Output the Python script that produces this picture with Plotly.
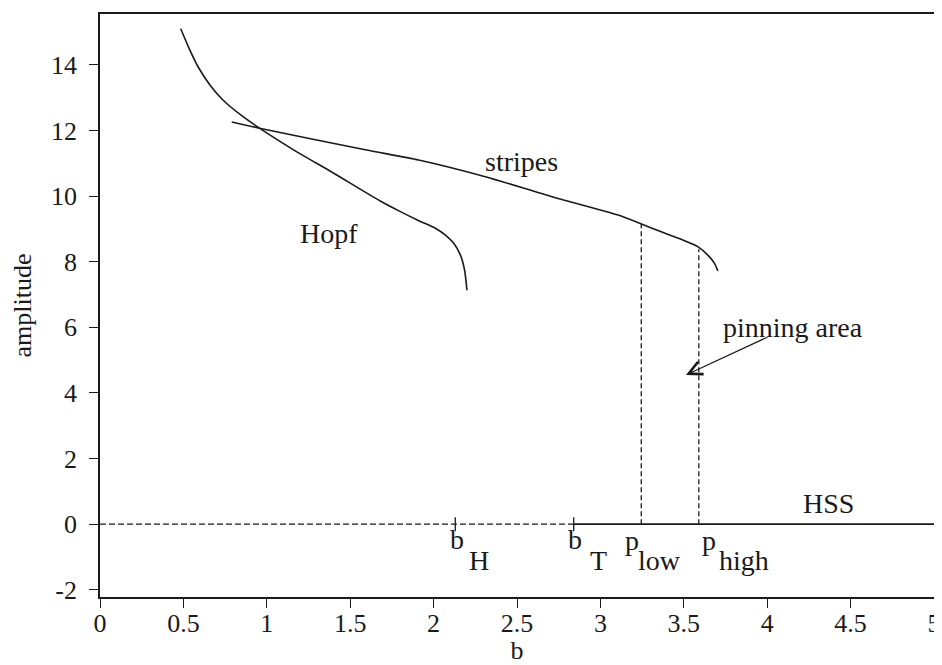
import plotly.graph_objects as go

# ---- data ----
hopf_b = [0.484, 0.53, 0.587, 0.66, 0.737, 0.85, 0.956, 1.17, 1.394, 1.68, 1.792, 1.912,
          2.011, 2.071, 2.121, 2.161, 2.186, 2.20]
hopf_amp = [15.10, 14.55, 13.95, 13.38, 12.93, 12.45, 12.07, 11.38, 10.72, 9.85, 9.55, 9.25,
            9.02, 8.81, 8.56, 8.20, 7.74, 7.13]

stripes_b = [0.79, 0.956, 1.59, 1.91, 2.31, 2.71, 3.106, 3.246, 3.365, 3.505, 3.584, 3.644, 3.684, 3.704]
stripes_amp = [12.26, 12.07, 11.41, 11.10, 10.59, 9.98, 9.42, 9.15, 8.91, 8.64, 8.46, 8.20, 7.95, 7.72]

hss_unstable_b = [0.0, 2.84]
hss_stable_b = [2.84, 5.0]
hss_amp = [0.0, 0.0]

mark_b = [2.13, 2.84]          # b_H, b_T
mark_amp = [0.0, 0.0]

p_low = 3.245
p_high = 3.59
p_low_amp = [0.0, 9.15]
p_high_amp = [0.0, 8.38]

x_ticks = [0, 0.5, 1, 1.5, 2, 2.5, 3, 3.5, 4, 4.5, 5]
x_tick_text = ["0", "0.5", "1", "1.5", "2", "2.5", "3", "3.5", "4", "4.5", "5"]
y_ticks = [-2, 0, 2, 4, 6, 8, 10, 12, 14]
y_tick_text = ["-2", "0", "2", "4", "6", "8", "10", "12", "14"]

FONT = "Liberation Serif"
INK = "#1a1a1a"

fig = go.Figure()

fig.add_trace(go.Scatter(x=hopf_b, y=hopf_amp, mode="lines",
                         line=dict(color=INK, width=1.6, shape="spline", smoothing=0.6),
                         hoverinfo="skip"))
fig.add_trace(go.Scatter(x=stripes_b, y=stripes_amp, mode="lines",
                         line=dict(color=INK, width=1.6, shape="spline", smoothing=0.6),
                         hoverinfo="skip"))
fig.add_trace(go.Scatter(x=hss_unstable_b, y=hss_amp, mode="lines",
                         line=dict(color=INK, width=1.3, dash="6px,3px"), hoverinfo="skip"))
fig.add_trace(go.Scatter(x=hss_stable_b, y=hss_amp, mode="lines",
                         line=dict(color=INK, width=1.6), hoverinfo="skip"))
fig.add_trace(go.Scatter(x=mark_b, y=mark_amp, mode="markers",
                         marker=dict(symbol="line-ns", size=10,
                                     line=dict(color=INK, width=1.3)),
                         hoverinfo="skip"))
fig.add_trace(go.Scatter(x=[p_low, p_low], y=p_low_amp, mode="lines",
                         line=dict(color=INK, width=1.3, dash="5px,3px"), hoverinfo="skip"))
fig.add_trace(go.Scatter(x=[p_high, p_high], y=p_high_amp, mode="lines",
                         line=dict(color=INK, width=1.3, dash="5px,3px"), hoverinfo="skip"))

def label(x, y, text, size=28):
    fig.add_annotation(x=x, y=y, xref="x", yref="y", text=text, showarrow=False,
                       xanchor="center", yanchor="middle",
                       font=dict(family=FONT, size=size, color=INK))

label(1.374, 8.87, "Hopf")
label(2.527, 11.04, "stripes")
label(4.367, 0.62, "HSS")
label(4.152, 6.0, "pinning area")

# bifurcation point labels (main letter raised, subscript at full size)
label(2.139, -0.46, "b")
label(2.27, -1.11, "H")
label(2.85, -0.46, "b")
label(2.987, -1.11, "T")
label(3.19, -0.50, "p")
label(3.357, -1.11, "low")
label(3.65, -0.50, "p")
label(3.86, -1.11, "high")

# arrow pointing into the pinning area
fig.add_annotation(x=3.513, y=4.55, ax=4.01, ay=5.72, xref="x", yref="y",
                   axref="x", ayref="y", text="", showarrow=True,
                   arrowhead=5, arrowsize=2.2, arrowwidth=1.2, arrowcolor=INK)

axis_common = dict(showgrid=False, zeroline=False, showline=True, linecolor=INK,
                   linewidth=1.6, mirror=True, ticks="outside", ticklen=9,
                   tickwidth=1.3, tickcolor=INK, ticklabeloverflow="allow",
                   tickfont=dict(family=FONT, size=26, color=INK), automargin=False)

fig.update_xaxes(range=[0, 5], tickvals=x_ticks, ticktext=x_tick_text,
                 title=dict(text="b", font=dict(family=FONT, size=26, color=INK), standoff=24),
                 ticklabelstandoff=-7, **axis_common)
fig.update_yaxes(range=[-2.22, 15.55], tickvals=y_ticks, ticktext=y_tick_text,
                 title=dict(text="amplitude", font=dict(family=FONT, size=26, color=INK), standoff=14),
                 ticklabelstandoff=7, **axis_common)

# page body keeps an 8px margin, so the figure is offset to fit the 942x665 window
fig.update_layout(width=940, height=657, showlegend=False,
                  margin=dict(l=92, r=14, t=6, b=68),
                  paper_bgcolor="white", plot_bgcolor="white")

fig.write_html("out.html")
